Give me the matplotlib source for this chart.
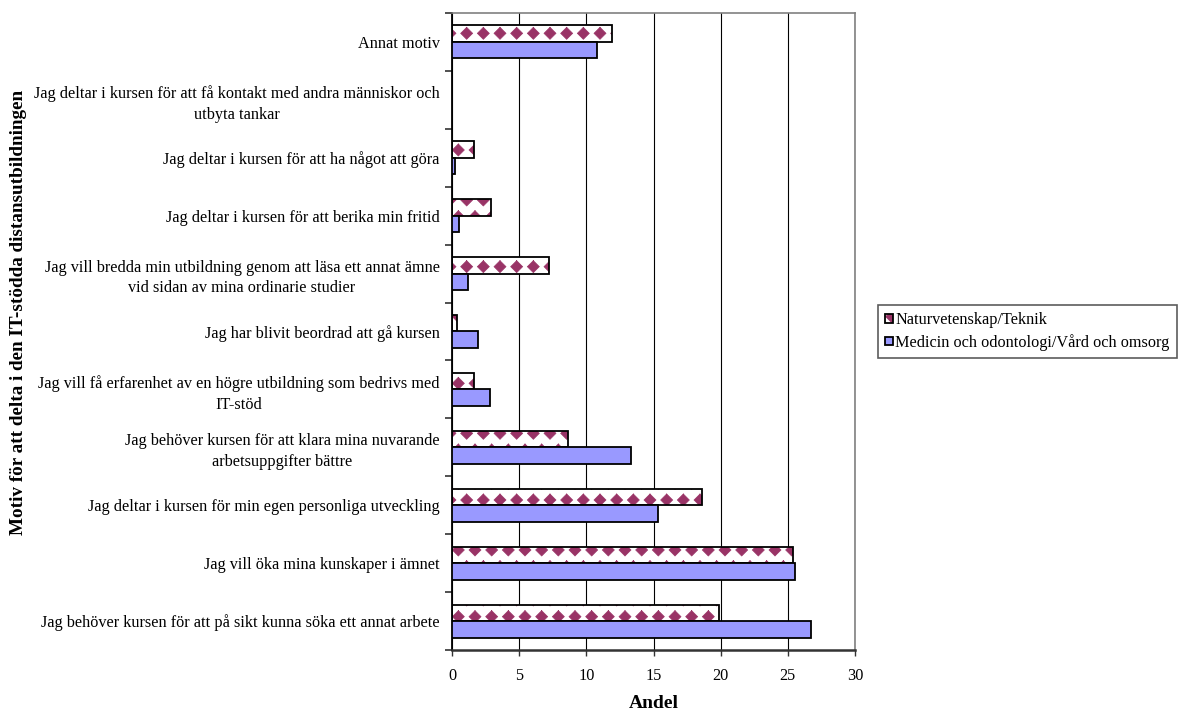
import warnings
import numpy as np
import matplotlib
matplotlib.use("Agg")
import matplotlib.pyplot as plt
from matplotlib import hatch as mhatch
from matplotlib.path import Path
from matplotlib.patches import Patch

warnings.filterwarnings("ignore")

categories = [
    "Jag behöver kursen för att på sikt kunna söka ett annat arbete",
    "Jag vill öka mina kunskaper i ämnet",
    "Jag deltar i kursen för min egen personliga utveckling",
    "Jag behöver kursen för att klara mina nuvarande\narbetsuppgifter bättre",
    "Jag vill få erfarenhet av en högre utbildning som bedrivs med\nIT-stöd",
    "Jag har blivit beordrad att gå kursen",
    "Jag vill bredda min utbildning genom att läsa ett annat ämne\nvid sidan av mina ordinarie studier",
    "Jag deltar i kursen för att berika min fritid",
    "Jag deltar i kursen för att ha något att göra",
    "Jag deltar i kursen för att få kontakt med andra människor och\nutbyta tankar",
    "Annat motiv",
]
naturvetenskap = [19.9, 25.4, 18.6, 8.6, 1.6, 0.4, 7.2, 2.9, 1.6, 0.0, 11.9]
medicin = [26.7, 25.5, 15.3, 13.3, 2.8, 1.9, 1.2, 0.5, 0.2, 0.0, 10.8]
series_names = ["Naturvetenskap/Teknik", "Medicin och odontologi/Vård och omsorg"]
x_ticks = [0, 5, 10, 15, 20, 25, 30]


# filled diamond hatch, registered under the letter 'd'
class Diamonds(mhatch.Shapes):
    size = 0.36
    filled = True

    def __init__(self, hatch, density):
        self.num_rows = hatch.count("d") * density
        path = Path.unit_regular_polygon(4)
        self.shape_vertices = path.vertices
        self.shape_codes = np.full(len(self.shape_vertices), Path.LINETO,
                                   dtype=Path.code_type)
        self.shape_codes[0] = Path.MOVETO
        super().__init__(hatch, density)


mhatch._hatch_types.append(Diamonds)

plt.rcParams["font.family"] = ["Liberation Serif", "DejaVu Serif"]
plt.rcParams["hatch.linewidth"] = 0.5

MAROON = "#993366"
PERIWINKLE = "#9999FF"
FS = 11.7

fig = plt.figure(figsize=(11.79, 7.13), dpi=100)
ax = fig.add_axes([0.3834, 0.0884, 0.3418, 0.8934])

y = np.arange(len(categories))
h = 0.285

ax.set_axisbelow(True)
ax.grid(axis="x", color="black", linewidth=0.8)

ax.barh(y + h / 2, naturvetenskap, height=h, color="white",
        edgecolor=MAROON, hatch="d", linewidth=0, zorder=2)
ax.barh(y + h / 2, naturvetenskap, height=h, fill=False,
        edgecolor="black", linewidth=1.3, zorder=3)
ax.barh(y - h / 2, medicin, height=h, color=PERIWINKLE,
        edgecolor="black", linewidth=1.3, zorder=3)

ax.set_xlim(0, 30)
ax.set_ylim(-0.5, len(categories) - 0.5)
ax.set_xticks(x_ticks)
ax.set_yticks(y)
ax.set_yticklabels(categories, fontsize=FS, multialignment="center",
                   linespacing=1.4)
ax.set_yticks(np.arange(-0.5, len(categories)), minor=True)
ax.tick_params(axis="y", which="major", length=0, pad=9)
ax.tick_params(axis="y", which="minor", length=5, width=1.2, color="#333333")
ax.tick_params(axis="x", length=4, width=1, labelsize=FS, pad=9,
               color="#333333")

for side in ["top", "right"]:
    ax.spines[side].set_color("#808080")
    ax.spines[side].set_linewidth(1.2)
ax.spines["left"].set_color("black")
ax.spines["left"].set_linewidth(1.3)
ax.spines["bottom"].set_color("#333333")
ax.spines["bottom"].set_linewidth(1.8)

# axis titles placed in figure coordinates
fig.text(0.5547, 0.007, "Andel", fontsize=14, fontweight="bold",
         ha="center", va="baseline")
fig.text(0.0153, 0.5624, "Motiv för att delta i den IT-stödda distansutbildningen",
         rotation=90, fontsize=13.8, fontweight="bold", ha="center", va="center")

nat_handle = (Patch(facecolor="white", edgecolor=MAROON, hatch="d", linewidth=0),
              Patch(fill=False, edgecolor="black", linewidth=1.3))
med_handle = Patch(facecolor=PERIWINKLE, edgecolor="black", linewidth=1.3)
leg = fig.legend([nat_handle, med_handle], series_names, loc="center left",
                 bbox_to_anchor=(0.7447, 0.535), fontsize=FS, frameon=True,
                 fancybox=False, edgecolor="#333333", handlelength=0.45,
                 handleheight=0.45, handletextpad=0.15, borderpad=0.45,
                 labelspacing=0.35, borderaxespad=0)
leg.get_frame().set_linewidth(1.2)

fig.savefig("out.png", dpi=100)
